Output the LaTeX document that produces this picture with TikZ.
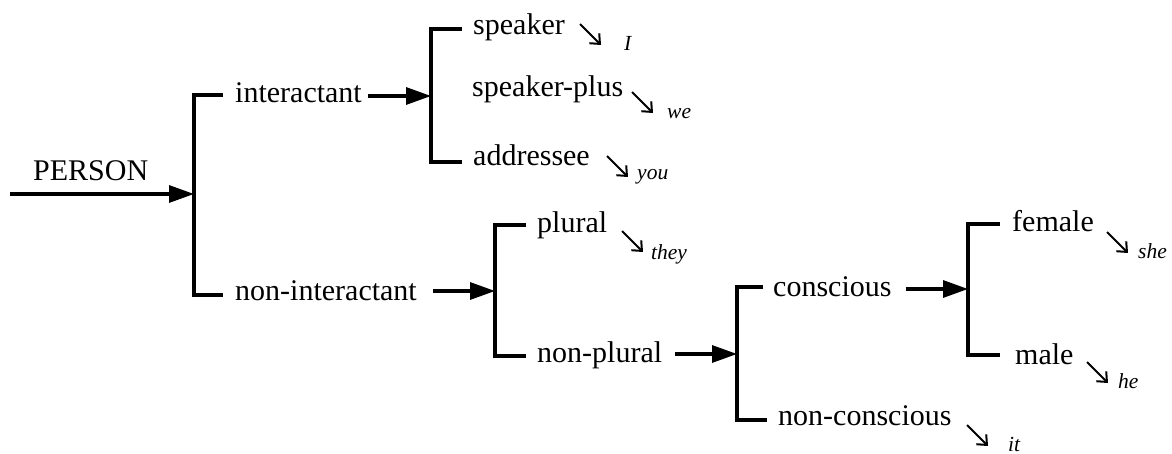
\documentclass[tikz,border=0pt]{standalone}
\usepackage{fontspec}
\setmainfont{Liberation Serif}
\usetikzlibrary{arrows.meta}
\begin{document}
\begin{tikzpicture}[x=1pt,y=-1pt,
  term/.style={inner sep=0pt,anchor=base west,font=\fontsize{30}{36}\selectfont},
  pron/.style={inner sep=0pt,anchor=base west,font=\fontsize{21.5}{26}\selectfont\itshape},
  br/.style={line width=3.2pt,line join=miter},
  arr/.style={line width=3.2pt,-{Triangle[length=25pt,width=17pt]}},
  realize/.style={line width=2pt,-{Straight Barb[length=8pt,width=14pt]}}]
\useasboundingbox (0,0) rectangle (1172,454);

% entry condition
\node[term] (person) at (33,181) {PERSON};
\coordinate (start) at (10,194);

% features
\node[term] (int)     at (235,103)  {interactant};
\node[term] (nonint)  at (235,300)  {non-interactant};
\node[term] (spk)     at (473,35)   {speaker};
\node[term] (spkp)    at (472,97)   {speaker-plus};
\node[term] (addr)    at (473,166)  {addressee};
\node[term] (plur)    at (537,233)  {plural};
\node[term] (nonplur) at (537,362)  {non-plural};
\node[term] (cons)    at (773,296)  {conscious};
\node[term] (noncons) at (778,425)  {non-conscious};
\node[term] (fem)     at (1012,232) {female};
\node[term] (male)    at (1015,364) {male};

% realisations
\node[pron] (I)    at (624,51)   {I};
\node[pron] (we)   at (667,119)  {we};
\node[pron] (you)  at (637,180)  {you};
\node[pron] (they) at (651,260)  {they};
\node[pron] (she)  at (1138,259) {she};
\node[pron] (he)   at (1118,388) {he};
\node[pron] (it)   at (1008,451) {it};

% system junctions
\coordinate (J1) at (194,194);
\coordinate (J2) at (431,96);
\coordinate (J3) at (495,291);
\coordinate (J4) at (737,354);
\coordinate (J5) at (968,289);

% entry arrows
\draw[arr] (start) -- (J1);
\draw[arr] (J2 -| int.east) ++(6,0) -- (J2);
\draw[arr] (J3 -| nonint.east) ++(16,0) -- (J3);
\draw[arr] (J4 -| nonplur.east) ++(13,0) -- (J4);
\draw[arr] (J5 -| cons.east) ++(14,0) -- (J5);

% brackets
\draw[br] ([shift={(-12,-8)}]int.base west) -| (J1) |- ([shift={(-12,-5)}]nonint.base west);
\draw[br] ([shift={(-11,-6)}]spk.base west) -| (J2) |- ([shift={(-11,-4)}]addr.base west);
\draw[br] ([shift={(-11,-8)}]plur.base west) -| (J3) |- ([shift={(-11,-6)}]nonplur.base west);
\draw[br] ([shift={(-10,-9)}]cons.base west) -| (J4) |- ([shift={(-11,-5)}]noncons.base west);
\draw[br] ([shift={(-12,-8)}]fem.base west) -| (J5) |- ([shift={(-15,-9)}]male.base west);

% realisation arrows
\coordinate (rI)    at (580,24);
\coordinate (rwe)   at (632,92);
\coordinate (ryou)  at (607,156);
\coordinate (rthey) at (622,231);
\coordinate (rshe)  at (1107,232);
\coordinate (rhe)   at (1087,362);
\coordinate (rit)   at (967,425);
\foreach \r in {rI,rwe,ryou,rthey,rshe,rhe,rit}
  \draw[realize] (\r) -- ++(21,21);
\end{tikzpicture}
\end{document}
